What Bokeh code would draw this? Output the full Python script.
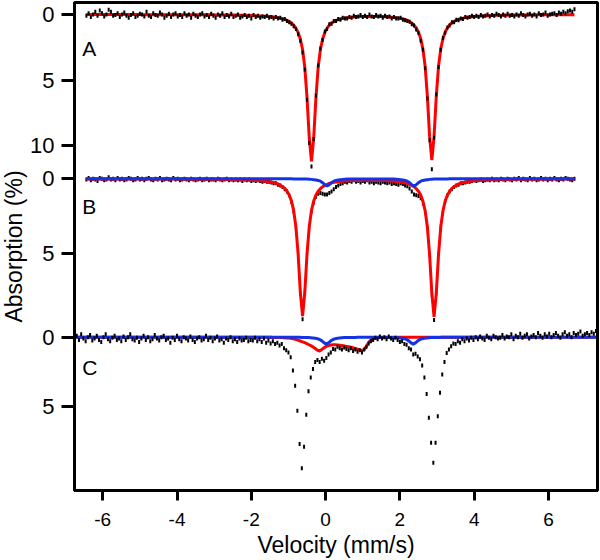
import numpy as np
from bokeh.plotting import figure
from bokeh.models import Range1d, FixedTicker, Label
from bokeh.embed import file_html
from bokeh.resources import INLINE

# ---------------- data (absorption in %) ----------------
VEL_AB_START = -6.44   # first channel velocity of spectra A and B (mm/s)
VEL_C_START = -6.76    # first channel velocity of spectrum C (mm/s)
VEL_STEP = 0.06        # channel width (mm/s)

A_DATA = [
    0.1, -0.1, 0.2, 0.0, -0.2, 0.1, -0.3, -0.1, 0.15, 0.0, -0.35, -0.2, 0.1, 0.05, -0.1, 0.2, 0.0, -0.15, 0.1, 0.25,
    0.05, -0.1, 0.2, 0.1, -0.05, 0.0, 0.15, -0.2, 0.1, 0.2, -0.1, 0.05, 0.1, -0.15, 0.0, 0.25, 0.1, -0.05, 0.2, 0.0,
    -0.1, 0.15, 0.05, 0.2, -0.1, 0.1, 0.0, 0.25, -0.05, 0.1, 0.2, 0.0, -0.1, 0.15, 0.05, 0.2, -0.05, 0.1, 0.25, 0.0,
    0.1, -0.1, 0.2, 0.05, 0.15, -0.05, 0.2, 0.1, 0.0, 0.25, 0.15, 0.05, 0.2, 0.1, 0.3, 0.05, 0.2, 0.1, 0.25, 0.15,
    0.2, 0.1, 0.25, 0.2, 0.3, 0.2,
    0.3, 0.25, 0.4, 0.35, 0.5, 0.6, 0.7, 0.9, 1.1, 1.5, 2.0, 2.9, 4.2, 6.5, 9.8, 11.6, 9.5, 6.2, 3.9, 2.6,
    1.95, 1.3, 1.1, 0.75, 0.7, 0.5, 0.5, 0.35, 0.4, 0.25, 0.3,
    0.3, 0.2, 0.25, 0.1, 0.2, 0.15, 0.05, 0.2, 0.1, 0.2, 0.0, 0.15, 0.2, 0.05, 0.15, 0.1, 0.25, 0.1, 0.2, 0.15,
    0.3, 0.2, 0.3,
    0.3, 0.25, 0.4, 0.45, 0.5, 0.55, 0.75, 0.85, 1.15, 1.4, 2.0, 2.7, 4.1, 6.4, 9.6, 11.8, 9.4, 6.1, 4.0, 2.7,
    1.8, 1.4, 1.0, 0.85, 0.6, 0.6, 0.4, 0.45, 0.3, 0.35, 0.2,
    0.25, 0.2, 0.1, 0.2, 0.1, 0.2, 0.05, 0.15, 0.1, 0.0, 0.15, 0.05, 0.1, -0.05, 0.05, 0.15, 0.0, 0.1, -0.05, 0.1,
    0.05, 0.15, 0.0, 0.1, -0.1, 0.05, 0.15, 0.0, -0.05, 0.1, 0.0, 0.15, -0.1, 0.05, 0.0, -0.15, 0.1, 0.0, -0.05, -0.1,
    0.05, -0.15, -0.05, -0.2, -0.1, -0.25, -0.3, -0.2, -0.4,
]

A_FIT = [
    0.01, 0.01, 0.01, 0.01, 0.01, 0.01, 0.01, 0.01, 0.01, 0.01, 0.01, 0.01, 0.01, 0.01, 0.01, 0.01, 0.01, 0.01, 0.01, 0.01,
    0.01, 0.01, 0.01, 0.01, 0.01,
    0.02, 0.02, 0.02, 0.02, 0.02, 0.02, 0.02, 0.02, 0.02, 0.02, 0.02, 0.02, 0.02, 0.02, 0.02, 0.02, 0.02, 0.02, 0.02, 0.02,
    0.02, 0.02, 0.02, 0.02, 0.02,
    0.03, 0.03, 0.03, 0.03, 0.03, 0.03, 0.03, 0.03,
    0.04, 0.04, 0.04, 0.04, 0.04,
    0.05, 0.05, 0.05, 0.05,
    0.06, 0.06, 0.06,
    0.07, 0.07, 0.07,
    0.08, 0.08,
    0.09, 0.10, 0.10, 0.11, 0.12, 0.13, 0.14, 0.16, 0.18, 0.20, 0.22,
    0.25, 0.28, 0.33, 0.38, 0.45, 0.53, 0.65, 0.81, 1.04, 1.37, 1.87, 2.67, 4.03, 6.34, 9.40, 11.20, 9.40, 6.34, 4.03, 2.67,
    1.87, 1.37, 1.04, 0.82, 0.66, 0.55, 0.47, 0.40, 0.35, 0.30, 0.27,
    0.25, 0.23, 0.21, 0.19, 0.18, 0.17, 0.16, 0.16, 0.15, 0.15, 0.15, 0.15, 0.15, 0.15, 0.15, 0.16, 0.16, 0.17, 0.18, 0.19,
    0.21, 0.23, 0.25,
    0.26, 0.30, 0.34, 0.38, 0.45, 0.54, 0.65, 0.81, 1.03, 1.35, 1.84, 2.63, 3.96, 6.23, 9.30, 11.10, 9.30, 6.23, 3.96, 2.62,
    1.83, 1.34, 1.02, 0.80, 0.64, 0.53, 0.44, 0.37, 0.32, 0.28, 0.24,
    0.22, 0.20, 0.18, 0.16, 0.14, 0.13, 0.12, 0.11, 0.10, 0.10, 0.09, 0.08, 0.08, 0.07, 0.07, 0.07, 0.06, 0.06, 0.06, 0.05,
    0.05, 0.05, 0.05, 0.05,
    0.04, 0.04, 0.04, 0.04, 0.04, 0.04,
    0.03, 0.03, 0.03, 0.03, 0.03, 0.03, 0.03, 0.03, 0.03, 0.03, 0.03, 0.03,
    0.02, 0.02, 0.02, 0.02, 0.02, 0.02, 0.02,
]

B_DATA = [
    0.05, -0.05, 0.1, 0.0, 0.05, 0.15, -0.05, 0.0, 0.1, 0.05, -0.1, 0.05, 0.0, 0.1, -0.05, 0.05, 0.0, 0.1, 0.05, -0.05,
    0.0, 0.1, 0.05, -0.05, 0.05, 0.0, 0.1, 0.0, -0.05, 0.05, 0.1, 0.0, 0.05, -0.05, 0.1, 0.05, 0.0, 0.05, 0.1, -0.05,
    0.05, 0.0, 0.1, 0.05, 0.0, 0.05, 0.1, 0.0, 0.05, 0.1, 0.05, 0.0, 0.1, 0.05, 0.0, 0.1, 0.05, 0.05, 0.1, 0.0,
    0.05, 0.1, 0.05, 0.0, 0.1, 0.05, 0.1, 0.05, 0.1, 0.05, 0.15, 0.05, 0.1, 0.05, 0.15, 0.1, 0.15, 0.1, 0.15, 0.2,
    0.15, 0.2,
    0.2, 0.25, 0.3, 0.3, 0.4, 0.45, 0.55, 0.7, 0.85, 1.1, 1.55, 2.2, 3.3, 5.1, 7.7, 9.4, 7.6, 5.0, 3.25, 2.2,
    1.6, 1.2, 1.0, 0.95, 1.0, 1.05, 1.05, 0.95, 0.85, 0.7, 0.55,
    0.45, 0.35, 0.3, 0.2, 0.25, 0.15, 0.2, 0.1, 0.2, 0.15, 0.25, 0.15, 0.2, 0.1, 0.25, 0.2, 0.3, 0.2, 0.25, 0.3,
    0.2, 0.25, 0.3, 0.25, 0.35, 0.3, 0.35, 0.4,
    0.3, 0.35, 0.45, 0.5, 0.65, 0.85, 1.05, 1.1, 1.15, 1.3, 1.65, 2.25, 3.3, 5.1, 7.8, 9.45, 7.7, 5.0, 3.2, 2.15,
    1.5, 1.1, 0.85, 0.7, 0.55, 0.45, 0.4, 0.3, 0.3, 0.25, 0.2,
    0.2, 0.15, 0.1, 0.15, 0.1, 0.05, 0.15, 0.1, 0.05, 0.1, 0.0, 0.1, 0.05, 0.1, 0.0, 0.05, 0.1, 0.0, 0.05, 0.1,
    0.0, 0.05, -0.05, 0.1,
    0.0, 0.05, 0.1, -0.05, 0.05, 0.0, 0.1, 0.05, -0.05, 0.05, 0.0, 0.1, 0.0, 0.05, -0.05, 0.05, 0.1, 0.0, 0.05, -0.05,
    0.0, 0.05, 0.1, 0.0,
]

B_FIT_RED = [
    0.01, 0.01, 0.01, 0.01, 0.01, 0.01, 0.01, 0.01, 0.01, 0.01, 0.01, 0.01, 0.01, 0.01, 0.01, 0.01, 0.01, 0.01, 0.01, 0.01,
    0.01, 0.01, 0.01, 0.01, 0.01,
    0.02, 0.02, 0.02, 0.02, 0.02, 0.02, 0.02, 0.02, 0.02, 0.02, 0.02, 0.02, 0.02, 0.02, 0.02, 0.02, 0.02, 0.02, 0.02, 0.02,
    0.03, 0.03, 0.03, 0.03, 0.03, 0.03, 0.03, 0.03, 0.03, 0.03, 0.03, 0.03, 0.03,
    0.04, 0.04, 0.04, 0.04, 0.04,
    0.05, 0.05, 0.05, 0.05,
    0.06, 0.06, 0.06,
    0.07, 0.07,
    0.08, 0.08,
    0.09, 0.10, 0.11, 0.12, 0.13, 0.14, 0.16, 0.18,
    0.20, 0.23, 0.26, 0.30, 0.36, 0.43, 0.52, 0.65, 0.82, 1.08, 1.48, 2.12, 3.20, 5.03, 7.60, 9.20, 7.60, 5.03, 3.20, 2.12,
    1.49, 1.09, 0.83, 0.66, 0.53, 0.44, 0.37, 0.31, 0.27, 0.24, 0.21,
    0.19, 0.18, 0.16, 0.15, 0.14, 0.13, 0.12, 0.12, 0.11, 0.11, 0.11, 0.10, 0.10, 0.10, 0.10, 0.10, 0.10, 0.11, 0.11, 0.11,
    0.12, 0.12, 0.13, 0.14, 0.15, 0.16, 0.18, 0.19,
    0.21, 0.24, 0.27, 0.31, 0.37, 0.44, 0.53, 0.66, 0.83, 1.09, 1.50, 2.14, 3.23, 5.09, 7.65, 9.25, 7.65, 5.09, 3.23, 2.14,
    1.49, 1.09, 0.83, 0.65, 0.52, 0.43, 0.36, 0.30, 0.26, 0.23, 0.20,
    0.17, 0.15, 0.14, 0.12, 0.11, 0.10, 0.09, 0.09, 0.08, 0.07, 0.07, 0.06, 0.06, 0.05, 0.05, 0.05, 0.04,
    0.04, 0.04, 0.04, 0.04, 0.04,
    0.03, 0.03, 0.03, 0.03, 0.03, 0.03, 0.03, 0.03, 0.03, 0.03, 0.03, 0.03,
    0.02, 0.02, 0.02, 0.02, 0.02, 0.02, 0.02, 0.02, 0.02, 0.02, 0.02, 0.02, 0.02, 0.02,
]

B_FIT_BLUE = [
    0.0, 0.0, 0.0, 0.0, 0.0, 0.0, 0.0, 0.0, 0.0, 0.0, 0.0, 0.0, 0.0, 0.0, 0.0, 0.0, 0.0, 0.0, 0.0, 0.0,
    0.0, 0.0, 0.0, 0.0, 0.0, 0.0, 0.0, 0.0, 0.0, 0.0, 0.0, 0.0, 0.0, 0.0, 0.0, 0.0, 0.0, 0.0, 0.0, 0.0,
    0.0, 0.0, 0.0, 0.0, 0.0, 0.0, 0.0, 0.0, 0.0, 0.0, 0.0, 0.0, 0.0, 0.0, 0.0, 0.0, 0.0, 0.0, 0.0, 0.0,
    0.0, 0.0, 0.0, 0.0, 0.0, 0.0, 0.0, 0.0, 0.0, 0.0, 0.0, 0.0, 0.0, 0.0, 0.0, 0.0, 0.0, 0.0, 0.0, 0.0,
    0.0, 0.0, 0.0, 0.0, 0.0, 0.0, 0.0, 0.0, 0.0, 0.0, 0.0, 0.0, 0.0,
    0.01, 0.01, 0.01, 0.01,
    0.02, 0.02, 0.02,
    0.03, 0.04, 0.06, 0.08, 0.11, 0.16, 0.26, 0.40, 0.48, 0.40, 0.26, 0.16, 0.11, 0.08, 0.06, 0.04, 0.03,
    0.02, 0.02, 0.02, 0.02, 0.02,
    0.01, 0.01, 0.01, 0.01, 0.01, 0.01, 0.01, 0.01, 0.01, 0.01, 0.01, 0.01,
    0.02, 0.02, 0.02, 0.02, 0.02,
    0.03, 0.04, 0.06, 0.08, 0.11, 0.16, 0.26, 0.40, 0.48, 0.40, 0.26, 0.16, 0.11, 0.08, 0.06, 0.04, 0.03,
    0.02, 0.02, 0.02,
    0.01, 0.01, 0.01, 0.01,
    0.0, 0.0, 0.0, 0.0, 0.0, 0.0, 0.0, 0.0, 0.0, 0.0, 0.0, 0.0, 0.0, 0.0, 0.0, 0.0, 0.0, 0.0, 0.0, 0.0,
    0.0, 0.0, 0.0, 0.0, 0.0, 0.0, 0.0, 0.0, 0.0, 0.0, 0.0, 0.0, 0.0, 0.0, 0.0, 0.0, 0.0, 0.0, 0.0, 0.0,
    0.0, 0.0, 0.0, 0.0, 0.0, 0.0, 0.0, 0.0, 0.0, 0.0, 0.0, 0.0, 0.0, 0.0, 0.0, 0.0, 0.0,
]

C_DATA = [
    -0.3, -0.1, 0.2, -0.2, 0.1, 0.3, 0.0, -0.15, 0.25, 0.1, -0.1, 0.2, 0.35, 0.0, -0.2, 0.15, 0.3, 0.05, -0.1, 0.2,
    0.1, 0.3, -0.05, 0.2, 0.0, -0.2, 0.15, 0.25, 0.05, 0.35, 0.1, -0.1, 0.2, 0.0, 0.3, 0.15, -0.15, 0.1, 0.25, 0.0,
    -0.1, 0.2, 0.1, 0.4, 0.05, 0.2, -0.1, 0.15, 0.3, 0.0, 0.1, 0.25, -0.05, 0.2, 0.35, 0.1, 0.0, 0.25, 0.15, -0.1,
    0.2, 0.05, 0.3, 0.1, -0.05, 0.25, 0.15, 0.4, 0.1, 0.2, 0.0, 0.3, 0.15, 0.35, 0.1, 0.25, 0.2, 0.05, 0.3, 0.2,
    0.25, 0.05, 0.3, 0.15, 0.35, 0.1, 0.4, 0.25, 0.45, 0.3, 0.5, 0.4, 0.6, 0.5, 0.8, 0.95, 1.1, 1.45, 2.4, 3.5,
    5.3, 7.7,
    9.45,
    7.9, 5.6, 3.9, 2.9, 2.3, 1.8, 1.65, 1.8, 1.55, 1.7, 1.5, 1.25, 1.1, 0.85, 0.9, 0.7, 0.8, 0.9, 0.75, 0.85,
    0.95, 0.8, 1.0, 0.9, 1.05, 0.95, 1.1, 0.9, 0.7, 0.45, 0.3, 0.2, 0.05, 0.15, -0.05, 0.1, 0.0, 0.15, -0.05, 0.1,
    0.2, 0.05, 0.2,
    0.35, 0.3, 0.5, 0.55, 0.8, 0.9, 1.25, 1.2, 1.4, 1.6, 2.05, 2.9, 4.1, 5.8, 7.6,
    9.05,
    7.6, 5.7, 4.0, 2.7, 1.8, 1.15, 0.9, 0.65, 0.45, 0.5, 0.3, 0.4, 0.15, 0.3, 0.1, 0.25, 0.05, 0.2, 0.0, 0.15,
    -0.05, 0.1, 0.2, -0.1, 0.05, 0.15, -0.1, 0.0, 0.1,
    0.05, -0.15, 0.1, -0.05, 0.0, -0.2, 0.15, -0.1, 0.0, -0.25, 0.05, -0.1, -0.2, 0.1, -0.05, -0.15, 0.0, -0.3, -0.1, 0.05,
    -0.2, -0.05, -0.25, 0.0, -0.15, -0.3, -0.1, 0.05, -0.2, -0.35, -0.1, -0.2, 0.0, -0.3, -0.15, -0.25, -0.4, -0.1, -0.2, -0.3,
    -0.15, -0.35, -0.25, -0.45,
]

C_FIT_RED = [
    0.0, 0.0, 0.0, 0.0, 0.0, 0.0, 0.0, 0.0, 0.0, 0.0, 0.0, 0.0, 0.0, 0.0, 0.0, 0.0, 0.0, 0.0, 0.0, 0.0,
    0.0, 0.0, 0.0, 0.0, 0.0, 0.0, 0.0, 0.0, 0.0, 0.0, 0.0, 0.0, 0.0, 0.0, 0.0, 0.0, 0.0, 0.0, 0.0, 0.0,
    0.0, 0.0, 0.0, 0.0, 0.0, 0.0, 0.0, 0.0, 0.0, 0.0, 0.0, 0.0, 0.0, 0.0, 0.0, 0.0, 0.0, 0.0, 0.0, 0.0,
    0.0, 0.0, 0.0, 0.0, 0.0, 0.0, 0.0, 0.0, 0.0, 0.0, 0.0, 0.0, 0.0, 0.0, 0.0, 0.0, 0.0, 0.0, 0.0, 0.0,
    0.0, 0.0, 0.0, 0.0, 0.0,
    0.01, 0.01, 0.01, 0.01,
    0.02, 0.02, 0.02, 0.02,
    0.03, 0.05, 0.06, 0.07, 0.09, 0.11, 0.15, 0.20, 0.26, 0.32, 0.38, 0.45, 0.53, 0.61, 0.71, 0.82, 0.94, 1.00, 0.88, 0.76,
    0.67, 0.61, 0.57, 0.55, 0.55, 0.57, 0.59, 0.61, 0.64, 0.67, 0.70, 0.73, 0.77, 0.82, 0.87, 0.92, 0.96, 0.90, 0.65, 0.38,
    0.22, 0.13, 0.08, 0.05, 0.03,
    0.02, 0.02, 0.02, 0.02,
    0.01, 0.01, 0.01, 0.01,
    0.0, 0.0, 0.0, 0.0, 0.0, 0.0, 0.0, 0.0, 0.0, 0.0, 0.0, 0.0, 0.0, 0.0, 0.0, 0.0, 0.0, 0.0, 0.0, 0.0,
    0.0, 0.0, 0.0, 0.0, 0.0, 0.0, 0.0, 0.0, 0.0, 0.0, 0.0, 0.0, 0.0, 0.0, 0.0, 0.0, 0.0, 0.0, 0.0, 0.0,
    0.0, 0.0, 0.0, 0.0, 0.0, 0.0, 0.0, 0.0, 0.0, 0.0, 0.0, 0.0, 0.0, 0.0, 0.0, 0.0, 0.0, 0.0, 0.0, 0.0,
    0.0, 0.0, 0.0, 0.0, 0.0, 0.0, 0.0, 0.0, 0.0, 0.0, 0.0, 0.0, 0.0, 0.0, 0.0, 0.0, 0.0, 0.0, 0.0, 0.0,
    0.0, 0.0, 0.0, 0.0, 0.0, 0.0, 0.0, 0.0, 0.0,
]

C_FIT_BLUE = [
    0.0, 0.0, 0.0, 0.0, 0.0, 0.0, 0.0, 0.0, 0.0, 0.0, 0.0, 0.0, 0.0, 0.0, 0.0, 0.0, 0.0, 0.0, 0.0, 0.0,
    0.0, 0.0, 0.0, 0.0, 0.0, 0.0, 0.0, 0.0, 0.0, 0.0, 0.0, 0.0, 0.0, 0.0, 0.0, 0.0, 0.0, 0.0, 0.0, 0.0,
    0.0, 0.0, 0.0, 0.0, 0.0, 0.0, 0.0, 0.0, 0.0, 0.0, 0.0, 0.0, 0.0, 0.0, 0.0, 0.0, 0.0, 0.0, 0.0, 0.0,
    0.0, 0.0, 0.0, 0.0, 0.0, 0.0, 0.0, 0.0, 0.0, 0.0, 0.0, 0.0, 0.0, 0.0, 0.0, 0.0, 0.0, 0.0, 0.0, 0.0,
    0.0, 0.0, 0.0, 0.0, 0.0, 0.0, 0.0, 0.0, 0.0, 0.0, 0.0, 0.0, 0.0, 0.0, 0.0, 0.0, 0.0, 0.0,
    0.01, 0.01, 0.01, 0.01,
    0.02, 0.02, 0.02,
    0.03, 0.04, 0.06, 0.08, 0.11, 0.17, 0.27, 0.41, 0.50, 0.41, 0.27, 0.17, 0.11, 0.08, 0.06, 0.04, 0.03,
    0.02, 0.02, 0.02, 0.02, 0.02,
    0.01, 0.01, 0.01, 0.01, 0.01, 0.01, 0.01, 0.01, 0.01, 0.01, 0.01, 0.01, 0.01, 0.01,
    0.02, 0.02, 0.02,
    0.03, 0.04, 0.06, 0.08, 0.11, 0.17, 0.27, 0.41, 0.50, 0.41, 0.27, 0.17, 0.11, 0.08, 0.06, 0.04, 0.03,
    0.02, 0.02, 0.02, 0.02,
    0.01, 0.01, 0.01, 0.01, 0.01, 0.01, 0.01, 0.01, 0.01, 0.01, 0.01,
    0.0, 0.0, 0.0, 0.0, 0.0, 0.0, 0.0, 0.0, 0.0, 0.0, 0.0, 0.0, 0.0, 0.0, 0.0, 0.0, 0.0, 0.0, 0.0, 0.0,
    0.0, 0.0, 0.0, 0.0, 0.0, 0.0, 0.0, 0.0, 0.0, 0.0, 0.0, 0.0, 0.0, 0.0, 0.0, 0.0, 0.0, 0.0, 0.0, 0.0,
    0.0, 0.0, 0.0, 0.0, 0.0, 0.0, 0.0, 0.0, 0.0, 0.0, 0.0, 0.0, 0.0, 0.0, 0.0, 0.0, 0.0, 0.0, 0.0,
]

X_TICKS = [-6, -4, -2, 0, 2, 4, 6]
X_TICK_LABELS = ["-6", "-4", "-2", "0", "2", "4", "6"]
PANEL_TICKS = {"A": [0, 5, 10], "B": [0, 5], "C": [0, 5]}
PANEL_LETTERS = ["A", "B", "C"]
X_TITLE = "Velocity (mm/s)"
Y_TITLE = "Absorption (%)"

for arr in (A_DATA, A_FIT, B_DATA, B_FIT_RED, B_FIT_BLUE):
    assert len(arr) == 220, len(arr)
for arr in (C_DATA, C_FIT_RED, C_FIT_BLUE):
    assert len(arr) == 235, len(arr)

velocity_ab = [round(VEL_AB_START + VEL_STEP * i, 2) for i in range(len(A_DATA))]
velocity_c = [round(VEL_C_START + VEL_STEP * i, 2) for i in range(len(C_DATA))]

# ---------------- layout ----------------
SHIFT = 8                      # figure starts this far left of the page edge
W, H = 600 + SHIFT, 560
FRAME_L, FRAME_R, FRAME_T, FRAME_B = 74 + SHIFT, 597 + SHIFT, 2, 492
X_MIN, X_MAX = -6.76, 7.32
# pixel row of 0 % and pixels per 1 % for each stacked panel
PANEL_GEOM = {"A": (14.0, 13.17), "B": (179.0, 15.0), "C": (338.0, 13.94)}
LETTER_BASE = {"A": 2.58, "B": 1.87, "C": 2.22}   # in each panel's own units
FONT = "Liberation Sans"
RED = "#FF0000"
BLUE = "#1432E6"

p = figure(width=W, height=H, output_backend="svg", toolbar_location=None,
           x_range=Range1d(X_MIN, X_MAX), y_range=Range1d(FRAME_B - FRAME_T, 0),
           min_border_left=FRAME_L, min_border_right=W - FRAME_R,
           min_border_top=FRAME_T, min_border_bottom=H - FRAME_B)
p.styles = {"position": "absolute", "left": f"-{SHIFT}px", "top": "0px"}

p.extra_y_ranges = {name: Range1d((FRAME_B - y0) / s, (FRAME_T - y0) / s)
                    for name, (y0, s) in PANEL_GEOM.items()}

tick_pos, overrides = [], {}
for name, ticks in PANEL_TICKS.items():
    y0, s = PANEL_GEOM[name]
    for t in ticks:
        pos = int(round(y0 + t * s - FRAME_T))
        tick_pos.append(pos)
        overrides[pos] = str(t)

p.grid.visible = False
p.background_fill_color = "white"
p.border_fill_color = "white"
p.outline_line_color = "black"
p.outline_line_width = 3

for ax in (p.xaxis[0], p.yaxis[0]):
    ax.axis_line_width = 3
    ax.major_tick_line_width = 3
    ax.minor_tick_line_color = None
    ax.major_tick_in = 0
    ax.major_label_text_font = FONT
    ax.major_label_text_color = "black"
    ax.axis_label_text_font = FONT
    ax.axis_label_text_font_style = "normal"
    ax.axis_label_text_color = "black"
    ax.axis_label_text_font_size = "23px"

p.yaxis.ticker = FixedTicker(ticks=tick_pos)
p.yaxis.major_label_overrides = overrides
p.yaxis.major_tick_out = 13
p.yaxis.major_label_text_font_size = "22px"
p.yaxis.major_label_standoff = 7
p.yaxis.axis_label = Y_TITLE
p.yaxis.axis_label_standoff = 0

p.xaxis.ticker = FixedTicker(ticks=X_TICKS)
p.xaxis.major_label_overrides = dict(zip(X_TICKS, X_TICK_LABELS))
p.xaxis.major_tick_out = 10
p.xaxis.major_label_text_font_size = "19px"
p.xaxis.major_label_standoff = 12
p.xaxis.axis_label = X_TITLE
p.xaxis.axis_label_standoff = 3


def dots(x, y, rng):
    p.rect(x=x, y=y, width=2, height=4, width_units="screen", height_units="screen",
           fill_color="black", line_color=None, y_range_name=rng)


def fit(x, y, rng, color):
    p.line(x=x, y=y, line_color=color, line_width=3, y_range_name=rng)


# panel A
fit(velocity_ab, A_FIT, "A", RED)
dots(velocity_ab, A_DATA, "A")
# panel B
dots(velocity_ab, B_DATA, "B")
fit(velocity_ab, B_FIT_RED, "B", RED)
fit(velocity_ab, B_FIT_BLUE, "B", BLUE)
# panel C
fit(velocity_c, C_FIT_RED, "C", RED)
fit(velocity_c, C_FIT_BLUE, "C", BLUE)
dots(velocity_c, C_DATA, "C")

for name in PANEL_LETTERS:
    p.add_layout(Label(x=-6.55, y=LETTER_BASE[name], y_range_name=name, text=name,
                       text_font=FONT, text_font_size="21px", text_color="black",
                       text_baseline="alphabetic"))

open("out.html", "w").write(file_html(p, INLINE))
